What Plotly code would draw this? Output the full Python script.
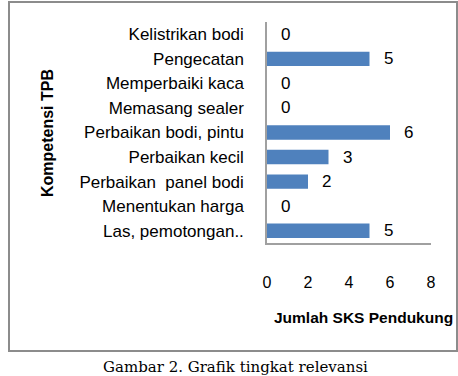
import plotly.graph_objects as go

categories = [
    "Las, pemotongan..",
    "Menentukan harga",
    "Perbaikan  panel bodi",
    "Perbaikan kecil",
    "Perbaikan bodi, pintu",
    "Memasang sealer",
    "Memperbaiki kaca",
    "Pengecatan",
    "Kelistrikan bodi",
]
values = [5, 0, 2, 3, 6, 0, 0, 5, 0]
x_ticks = [0, 2, 4, 6, 8]

W, H = 458, 376
L, R, T, B = 267, 431, 22, 243
pw, ph = R - L, B - T

def px(x):
    return (x - L) / pw

def py(y):
    return (B - y) / ph

font_main = "Liberation Sans, Arial, sans-serif"

fig = go.Figure()
fig.add_trace(go.Bar(
    x=values, y=categories, orientation="h",
    marker=dict(color="#4f81bd", line=dict(width=0)),
    hoverinfo="x+y",
))

annotations = []
for c, v in zip(categories, values):
    annotations.append(dict(
        x=v, y=c, xref="x", yref="y", text=str(v), showarrow=False,
        xanchor="left", yanchor="middle", xshift=12,
        font=dict(family=font_main, size=17, color="#000"),
    ))

annotations.append(dict(
    x=px(47), y=py(133), xref="paper", yref="paper", text="<b>Kompetensi TPB</b>",
    textangle=-90, showarrow=False, xanchor="center", yanchor="middle",
    font=dict(family=font_main, size=16, color="#000"),
))
annotations.append(dict(
    x=px(272), y=py(317), xref="paper", yref="paper", text="<b>Jumlah SKS Pendukung</b>",
    showarrow=False, xanchor="left", yanchor="middle",
    font=dict(family=font_main, size=15.5, color="#000"),
))
annotations.append(dict(
    x=px(235), y=py(356), xref="paper", yref="paper", text="Gambar 2. Grafik tingkat relevansi",
    showarrow=False, xanchor="center", yanchor="top",
    font=dict(family="DejaVu Serif, serif", size=15, color="#000"),
))

fig.update_layout(
    width=W, height=H,
    margin=dict(l=L, r=W - R, t=T, b=H - B, pad=0),
    paper_bgcolor="white", plot_bgcolor="white",
    showlegend=False,
    bargap=0.415,
    annotations=annotations,
    shapes=[dict(
        type="rect", xref="paper", yref="paper",
        x0=px(9), x1=px(457), y0=py(351), y1=py(2),
        line=dict(color="#8c8c8c", width=2), fillcolor="rgba(0,0,0,0)", layer="below",
    )],
    xaxis=dict(
        range=[0, 8], tickvals=x_ticks, ticktext=[str(t) for t in x_ticks],
        showgrid=False, zeroline=False, showline=True, linecolor="#a0a0a0", linewidth=1.5,
        ticks="", ticklabelstandoff=24,
        tickfont=dict(family=font_main, size=16, color="#000"),
    ),
    yaxis=dict(
        type="category", categoryorder="array", categoryarray=categories,
        range=[-0.5, len(categories) - 0.5],
        showgrid=False, zeroline=False, showline=True, linecolor="#a0a0a0", linewidth=1.5,
        ticks="", ticklabelstandoff=18,
        tickfont=dict(family=font_main, size=17, color="#000"),
    ),
)

fig.write_html("out.html")
